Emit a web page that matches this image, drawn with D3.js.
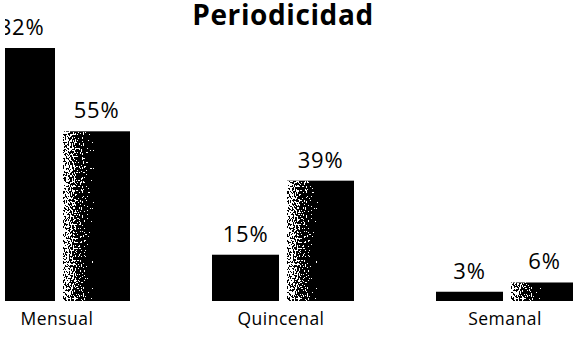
<!DOCTYPE html>
<html>
<head>
<meta charset="utf-8">
<script src="https://cdn.jsdelivr.net/npm/d3@7"></script>
<style>
  html, body { margin: 0; padding: 0; background: #fff; overflow: hidden; }
  svg { display: block; }
  text { font-family: "Open Sans", "Noto Sans", sans-serif; fill: #000; }
</style>
</head>
<body>
<svg id="chart" width="573" height="337"></svg>
<script>
// Periodicidad: two series per frequency category
const categories = ["Mensual", "Quincenal", "Semanal"];
const seriesNames = ["serieA", "serieB"];
const serieA = [82, 15, 3];
const serieB = [55, 39, 6];
const valueLabels = [["82%", "55%"], ["15%", "39%"], ["3%", "6%"]];
const title = "Periodicidad";

const width = 573, height = 337;
const svg = d3.select("#chart");

const defs = svg.append("defs");
const grad = defs.append("linearGradient")
  .attr("id", "fade").attr("x1", "0").attr("x2", "1").attr("y1", "0").attr("y2", "0");
grad.append("stop").attr("offset", "0").attr("stop-color", "#929292");
grad.append("stop").attr("offset", "0.15").attr("stop-color", "#767676");
grad.append("stop").attr("offset", "0.35").attr("stop-color", "#404040");
grad.append("stop").attr("offset", "0.6").attr("stop-color", "#000");
grad.append("stop").attr("offset", "1").attr("stop-color", "#000");

// Halftone grain: add noise to the gradient, then threshold to black/white
const grain = defs.append("filter").attr("id", "grain")
  .attr("x", 0).attr("y", 0).attr("width", 1).attr("height", 1)
  .attr("color-interpolation-filters", "sRGB");
grain.append("feTurbulence").attr("type", "fractalNoise")
  .attr("baseFrequency", "0.9 0.5").attr("numOctaves", 1).attr("seed", 7).attr("result", "noise");
grain.append("feColorMatrix").attr("in", "noise").attr("type", "matrix")
  .attr("values", "1 0 0 0 0  1 0 0 0 0  1 0 0 0 0  0 0 0 0 1").attr("result", "grey");
grain.append("feComposite").attr("in", "SourceGraphic").attr("in2", "grey")
  .attr("operator", "arithmetic").attr("k1", 0).attr("k2", 1).attr("k3", 1.5).attr("k4", -0.75)
  .attr("result", "mix");
const ct = grain.append("feComponentTransfer").attr("in", "mix").attr("result", "dots");
["feFuncR", "feFuncG", "feFuncB"].forEach(f =>
  ct.append(f).attr("type", "discrete").attr("tableValues", "0 1"));
grain.append("feComposite").attr("in", "dots").attr("in2", "SourceGraphic").attr("operator", "in");

// Drawing area starts a few pixels in from the left edge
defs.append("clipPath").attr("id", "area")
  .append("rect").attr("x", 5).attr("y", 0).attr("width", width - 5).attr("height", height);

// Outer band per category, inner band per series
const x0 = d3.scaleBand().domain(categories).range([-12, 578]).paddingInner(82 / 224).paddingOuter(0);
const x1 = d3.scaleBand().domain(seriesNames).range([0, x0.bandwidth()]).paddingInner(8 / 75).paddingOuter(0);
const y = d3.scaleLinear().domain([0, 82]).range([301, 48]);

const rows = categories.map((c, i) => ({
  cat: c,
  vals: [
    { key: "serieA", v: serieA[i], label: valueLabels[i][0] },
    { key: "serieB", v: serieB[i], label: valueLabels[i][1] }
  ]
}));

const plot = svg.append("g").attr("clip-path", "url(#area)");

const g = plot.selectAll("g.cat").data(rows).join("g")
  .attr("class", "cat")
  .attr("transform", d => `translate(${x0(d.cat)},0)`);

g.selectAll("rect").data(d => d.vals).join("rect")
  .attr("x", d => x1(d.key))
  .attr("y", d => y(d.v))
  .attr("width", x1.bandwidth())
  .attr("height", d => y(0) - y(d.v))
  .attr("fill", d => d.key === "serieA" ? "#000" : "url(#fade)")
  .attr("filter", d => d.key === "serieA" ? null : "url(#grain)");

g.selectAll("text.val").data(d => d.vals).join("text")
  .attr("class", "val")
  .attr("x", d => x1(d.key) + x1.bandwidth() / 2)
  .attr("y", d => y(d.v) - 13)
  .attr("text-anchor", "middle")
  .attr("font-size", 22)
  .attr("letter-spacing", 0.8)
  .text(d => d.label);

// Category axis labels
plot.append("g").selectAll("text").data(categories).join("text")
  .attr("x", d => x0(d) + x0.bandwidth() / 2 - 2)
  .attr("y", 325)
  .attr("text-anchor", "middle")
  .attr("font-size", 17.5)
  .attr("letter-spacing", 0.5)
  .text(d => d);

svg.append("text")
  .attr("x", 283).attr("y", 25)
  .attr("text-anchor", "middle")
  .attr("font-size", 28)
  .attr("font-weight", "bold")
  .attr("letter-spacing", 0.6)
  .text(title);
</script>
</body>
</html>
